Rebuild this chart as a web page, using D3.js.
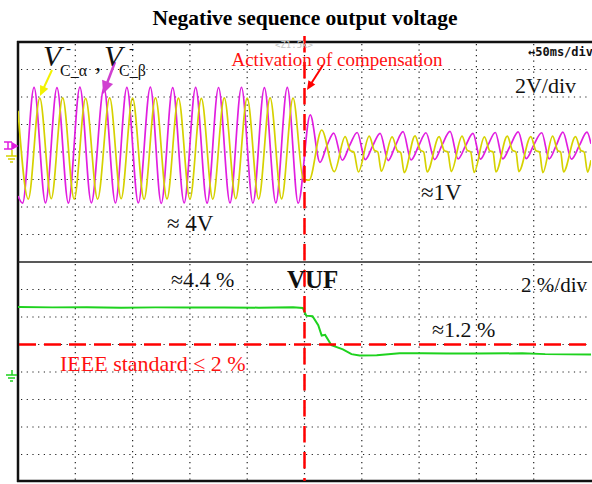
<!DOCTYPE html>
<html>
<head>
<meta charset="utf-8">
<script src="https://cdn.jsdelivr.net/npm/d3@7"></script>
<style>
body {margin:0; background:#fff;}
svg {display:block;}
</style>
</head>
<body>
<svg id="mainsvg" width="592" height="484"></svg>
<script>
// time in ms (50ms/div), voltages in V (2V/div), VUF in % (2 %/div)
// yellow trace, V_C_alpha : [ms, V]
var vAlpha = [[0,3.0],[9,-3.42],[19,3.92],[29,-3.40],[39,3.94],[49,-3.42],[59,3.90],[69.5,-3.42],[80,3.93],[90,-3.40],
	[100,3.92],[110,-3.43],[120,3.94],[130,-3.41],[140,3.92],[150,-3.42],[160,3.90],[170,-3.42],[180,3.93],[190,-3.40],
	[200,3.92],[210,-3.42],[220,3.94],[230,-3.41],[240,3.92],[249,-2.0],[254,-2.05],[265,1.6],[276,-1.43],
	[285.5,1.12],[290,0.1],[293,0.0],[297,-1.45],
	[306.5,1.15],[311,0.12],[314,0.0],[317,-1.4],
	[326.5,1.1],[331,0.1],[334,-0.05],[337,-1.5],
	[346.5,1.18],[351,0.15],[354,0.0],[357,-1.45],
	[367.5,1.12],[372,0.1],[375,0.0],[378,-1.42],
	[387.5,1.15],[392,0.12],[395,0.0],[398,-1.48],
	[407,1.1],[411.5,0.1],[414.5,0.0],[417,-1.45],
	[427,1.16],[431.5,0.12],[434.5,0.0],[437,-1.42],
	[447.5,1.12],[452,0.1],[455,0.0],[458,-1.5],
	[466.5,1.15],[471,0.1],[473.5,0.0],[476,-1.45],
	[486.5,1.12],[491,0.12],[494,0.0],[497,-1.46],[500,-0.6]];
// magenta trace, V_C_beta : [ms, V]
var vBeta = [[0,-3.2],[4,-3.72],[14,4.70],[24,-3.70],[34,4.68],[44,-3.72],[54,4.72],[64,-3.70],[75,4.66],[85,-3.71],
	[95,4.70],[105,-3.70],[115.5,4.72],[125,-3.73],[135,4.68],[145,-3.70],[155,4.70],[165,-3.72],[175,4.69],[185,-3.70],
	[195,4.71],[205,-3.72],[215,4.68],[225,-3.70],[235,4.70],[244.5,-3.72],[255,2.7],
	[263.5,-0.75],[269.5,0.45],[275.5,1.38],
	[283,-0.6],[289.5,0.5],[296,1.42],
	[303,-0.55],[309.5,0.45],[316,1.36],
	[323,-0.62],[329.5,0.5],[336,1.48],
	[343,-0.58],[349.5,0.42],[356,1.40],
	[363.5,-0.55],[370,0.5],[377,1.5],
	[384,-0.5],[390.5,0.45],[397,1.36],
	[403.5,-0.52],[410,0.48],[416.5,1.42],
	[423,-0.5],[429.5,0.45],[436.5,1.46],
	[443.5,-0.48],[450,0.5],[457,1.4],
	[463.5,-0.5],[469.5,0.45],[475.5,1.45],
	[483,-0.52],[490,0.5],[496.5,1.44],[500,0.6]];
// green trace, VUF : [ms, %]
var vuf = [[0,4.72],[30,4.70],[60,4.71],[90,4.68],[120,4.70],[150,4.69],[180,4.70],[210,4.68],[240,4.70],
	[248.5,4.66],[251.5,4.1],[257,4.05],[262,3.4],[265,2.65],[268,2.7],[273.5,1.95],[283.5,1.65],[291,1.3],
	[298,1.2],[313,1.22],[333,1.36],[353,1.36],[374,1.35],[400,1.34],[440,1.36],[460,1.3],[500,1.28]];
var activationTime = 250;
var ieeeLimit = 2;
var timeTicks = [50,100,150,200,250,300,350,400,450];
var levelTicks = [-6,-4,-2,0,2,4,6];

var svg = d3.select('#mainsvg');
var serif = '"Liberation Serif","Times New Roman",serif';

var x = d3.scaleLinear().domain([0,500]).range([18,591]);
var yTop = d3.scaleLinear().domain([-8,8]).range([262,42]);
var yBot = d3.scaleLinear().domain([-8,8]).range([482,262]);

svg.append('defs').append('clipPath').attr('id','screen')
	.append('rect').attr('x',x(0)).attr('y',42).attr('width',x(500)-x(0)).attr('height',440);

// title
svg.append('text').attr('x',305).attr('y',25).attr('text-anchor','middle')
	.attr('font-family',serif).attr('font-weight','bold').attr('font-size',21.5)
	.text('Negative sequence output voltage');

// grid
var grid = svg.append('g').attr('stroke','#222').attr('stroke-width',1.2);
grid.selectAll('.vg').data(timeTicks).enter().append('line')
	.attr('x1',function(d) {return x(d);}).attr('x2',function(d) {return x(d);})
	.attr('y1',44).attr('y2',480)
	.attr('stroke-dasharray','1.2,4.3');
grid.selectAll('.hgt').data(levelTicks).enter().append('line')
	.attr('x1',x(0)+3).attr('x2',x(500))
	.attr('y1',function(d) {return yTop(d);}).attr('y2',function(d) {return yTop(d);})
	.attr('stroke-dasharray','1.2,4.5');
grid.selectAll('.hgb').data(levelTicks).enter().append('line')
	.attr('x1',x(0)+3).attr('x2',x(500))
	.attr('y1',function(d) {return yBot(d);}).attr('y2',function(d) {return yBot(d);})
	.attr('stroke-dasharray','1.2,4.5');

// frame
svg.append('line').attr('x1',17).attr('x2',592).attr('y1',yTop(8)).attr('y2',yTop(8)).attr('stroke','#111').attr('stroke-width',2.5);
svg.append('line').attr('x1',18).attr('x2',18).attr('y1',41).attr('y2',482).attr('stroke','#111').attr('stroke-width',2.5);
svg.append('line').attr('x1',17).attr('x2',592).attr('y1',481).attr('y2',481).attr('stroke','#111').attr('stroke-width',2.5);
svg.append('line').attr('x1',18).attr('x2',592).attr('y1',yTop(-8)).attr('y2',yTop(-8)).attr('stroke','#222').attr('stroke-width',1.6);

// traces
var traces = svg.append('g').attr('clip-path','url(#screen)');
var lineTop = d3.line()
	.x(function(d) {return x(d[0]);})
	.y(function(d) {return yTop(d[1]);})
	.curve(d3.curveMonotoneX);
var lineBot = d3.line()
	.x(function(d) {return x(d[0]);})
	.y(function(d) {return yBot(d[1]);});
traces.append('path').attr('d',lineTop(vBeta)).attr('fill','none').attr('stroke','#e01ee0').attr('stroke-width',1.7);
traces.append('path').attr('d',lineTop(vAlpha)).attr('fill','none').attr('stroke','#d6d200').attr('stroke-width',1.7);
traces.append('path').attr('d',lineBot(vuf)).attr('fill','none').attr('stroke','#1ed21e').attr('stroke-width',2);

// IEEE limit and activation instant
svg.append('line').attr('x1',x(0)+1).attr('x2',592)
	.attr('y1',yBot(ieeeLimit)).attr('y2',yBot(ieeeLimit))
	.attr('stroke','#ff0000').attr('stroke-width',2.5).attr('stroke-dasharray','17,8');
svg.append('line').attr('x1',x(activationTime)).attr('x2',x(activationTime))
	.attr('y1',36).attr('y2',481)
	.attr('stroke','#ff0000').attr('stroke-width',2.5).attr('stroke-dasharray','16.5,9.5');

// arrows
function arrow(x1, y1, x2, y2, color, w, head) {
	var a = Math.atan2(y2-y1, x2-x1);
	svg.append('line').attr('x1',x1).attr('y1',y1)
		.attr('x2',x2-Math.cos(a)*head*0.8).attr('y2',y2-Math.sin(a)*head*0.8)
		.attr('stroke',color).attr('stroke-width',w);
	var p = [[x2,y2],
		[x2-Math.cos(a)*head+Math.sin(a)*head*0.45, y2-Math.sin(a)*head-Math.cos(a)*head*0.45],
		[x2-Math.cos(a)*head-Math.sin(a)*head*0.45, y2-Math.sin(a)*head+Math.cos(a)*head*0.45]];
	svg.append('path').attr('d','M'+p.join('L')+'Z').attr('fill',color);
}
arrow(323, 65, 307, 90, '#ff0000', 2, 9);
arrow(52, 70, 40, 96, '#f2f200', 2, 10);
arrow(115, 62, 103, 94, '#d040d0', 2.5, 13);

// channel markers
svg.append('path').attr('d','M4,142 L12,142 M8,142 L8,149 M4,149 L12,149 M12,143 L17,146 L12,149 Z')
	.attr('stroke','#e01ee0').attr('fill','#e01ee0').attr('stroke-width',1.5);
svg.append('path').attr('d','M12,150 L12,156 M6,156 L17,156 M8,159 L15,159 M10,162 L13,162')
	.attr('stroke','#d6d200').attr('fill','none').attr('stroke-width',1.5);
svg.append('path').attr('d','M12,370 L12,375 M6,375 L17,375 M8,378 L15,378 M10,381 L13,381')
	.attr('stroke','#1ed21e').attr('fill','none').attr('stroke-width',1.5);

// trace labels
function label(tx, ty, txt, size, opts) {
	opts = opts || {};
	return svg.append('text').attr('x',tx).attr('y',ty)
		.attr('font-family',opts.family || serif)
		.attr('font-size',size)
		.attr('font-style',opts.italic ? 'italic' : 'normal')
		.attr('font-weight',opts.bold ? 'bold' : 'normal')
		.attr('fill',opts.color || '#111')
		.attr('text-anchor',opts.anchor || 'start')
		.text(txt);
}
label(43, 66, 'V', 30, {italic: true});
label(66, 53, '-', 15);
label(60, 76, 'C_α', 16);
label(95, 70, ',', 24);
label(104, 66, 'V', 30, {italic: true});
label(129, 53, '-', 15);
label(119, 76, 'C_β', 16);

label(294, 48, '<Z1:5k>', 9, {family: '"DejaVu Sans Mono",monospace', color: '#c4c4c4', anchor: 'middle'});
label(528, 56, '↔50ms/div', 12, {family: '"DejaVu Sans Mono",monospace', bold: true});
label(337, 66, 'Activation of compensation', 19, {color: '#ff1010', anchor: 'middle'});
label(576, 93, '2V/div', 22, {anchor: 'end'});
label(167, 231, '≈ 4V', 23);
label(421, 200, '≈1V', 23);
label(171, 287, '≈4.4 %', 22);
label(287, 288, 'VUF', 25, {bold: true});
label(587, 292, '2 %/div', 21, {anchor: 'end'});
label(432, 337, '≈1.2 %', 22);
label(60, 371, 'IEEE standard ≤ 2 %', 22, {color: '#ff1010'});
</script>
</body>
</html>
